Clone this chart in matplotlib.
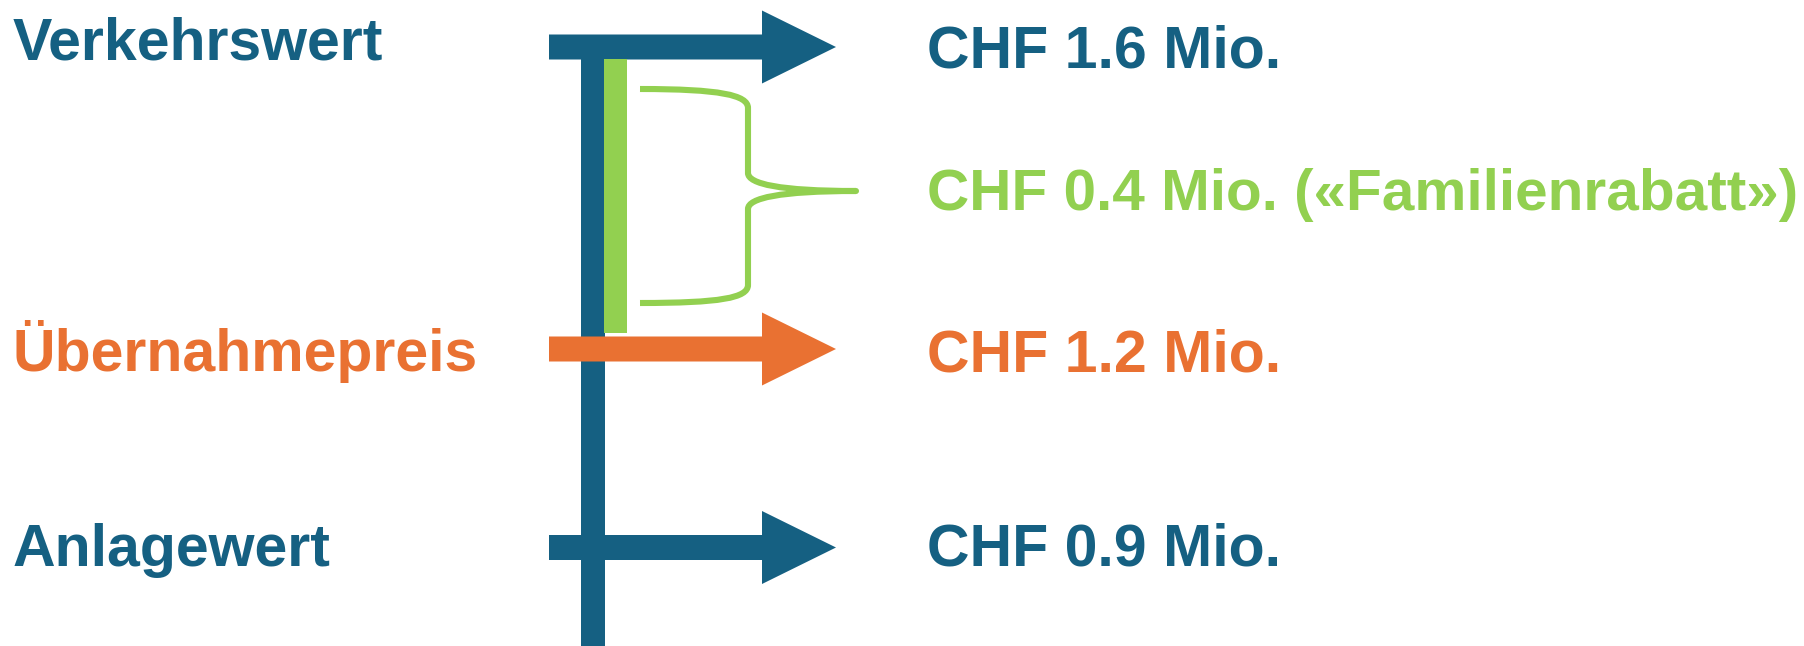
import matplotlib.pyplot as plt
from matplotlib.patches import FancyArrow, Rectangle, PathPatch
from matplotlib.path import Path

# values
LABELS   = ["Verkehrswert", "Übernahmepreis", "Anlagewert"]
VALUES   = [1.6, 1.2, 0.9]          # CHF Mio.
DISCOUNT = 0.4                      # «Familienrabatt»
DISCOUNT_NAME = "Familienrabatt"

# layout (pixel space, y down)
W, H     = 1804, 646
ROW_Y    = [47, 349, 547.5]         # arrow centre lines
BASELINE = [59, 371, 566]           # label baselines
VAL_BASE = [68, 371, 566]
BLUE     = "#156082"
ORANGE   = "#E97132"
GREEN    = "#92D050"
COLORS   = [BLUE, ORANGE, BLUE]
FS       = 42.5

plt.rcParams["font.family"] = ["Liberation Sans", "DejaVu Sans"]

fig = plt.figure(figsize=(W / 100, H / 100), dpi=100)
ax = fig.add_axes([0, 0, 1, 1])
ax.set_xlim(0, W)
ax.set_ylim(H, 0)
ax.axis("off")

# vertical stem
ax.add_patch(Rectangle((581, 40), 24, H - 40, color=BLUE, lw=0, zorder=2))

# green discount bar between top and middle arrow
ax.add_patch(Rectangle((604, 59), 23, 274, color=GREEN, lw=0, zorder=2))

# arrows
for i, (y, c) in enumerate(zip(ROW_Y, COLORS)):
    ax.add_patch(FancyArrow(549, y, 287, 0, width=25, head_width=73, head_length=74,
                            length_includes_head=True, color=c, lw=0,
                            zorder=3 if c == ORANGE else 1))

# curly brace
verts = [(640, 89), (720, 89), (748, 95), (748, 108),
         (748, 173),
         (748, 184), (780, 191), (856, 191),
         (780, 191), (748, 198), (748, 209),
         (748, 285),
         (748, 298), (720, 303), (640, 303)]
codes = [Path.MOVETO, Path.CURVE4, Path.CURVE4, Path.CURVE4,
         Path.LINETO,
         Path.CURVE4, Path.CURVE4, Path.CURVE4,
         Path.CURVE4, Path.CURVE4, Path.CURVE4,
         Path.LINETO,
         Path.CURVE4, Path.CURVE4, Path.CURVE4]
ax.add_patch(PathPatch(Path(verts, codes), fill=False, ec=GREEN, lw=4.4,
                       capstyle="butt", joinstyle="round", zorder=2))

# labels and values
for lab, v, yb, yv, c in zip(LABELS, VALUES, BASELINE, VAL_BASE, COLORS):
    ax.text(13, yb, lab, color=c, fontsize=FS, fontweight="bold",
            ha="left", va="baseline")
    ax.text(927, yv, f"CHF {v:.1f} Mio.", color=c, fontsize=FS, fontweight="bold",
            ha="left", va="baseline")

ax.text(927, 210.5, f"CHF {DISCOUNT:.1f} Mio. («{DISCOUNT_NAME}»)", color=GREEN,
        fontsize=42.1, fontweight="bold", ha="left", va="baseline")

fig.savefig("out.png", dpi=100)
